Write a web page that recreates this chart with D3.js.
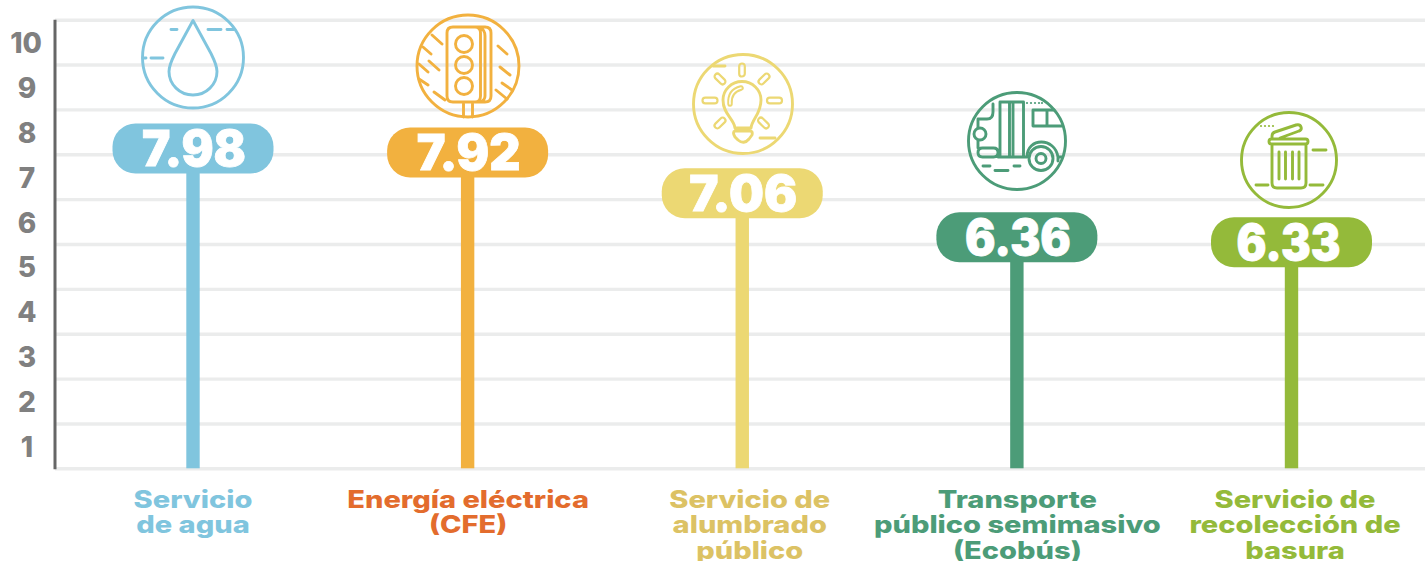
<!DOCTYPE html>
<html><head><meta charset="utf-8">
<script src="https://cdn.jsdelivr.net/npm/d3@7"></script>
<style>html,body{margin:0;padding:0;background:#fff;overflow:hidden}svg{display:block;font-family:Inter,"Noto Sans",sans-serif}</style>
</head><body><svg id="c" width="1425" height="561"></svg>
<script>
const categories = ["agua","cfe","alumbrado","ecobus","basura"];
const labelLines = [["Servicio","de agua"],["Energía eléctrica","(CFE)"],["Servicio de","alumbrado","público"],["Transporte","público semimasivo","(Ecobús)"],["Servicio de","recolección de","basura"]];
const values = [7.98,7.92,7.06,6.36,6.33];
// height of each lollipop head read against the picture's gridlines (not proportional to the printed score)
const headLevels = [7.13,7.04,6.13,5.15,5.04];
const barColors = ["#80c5de","#f2b13f","#ecd873","#4c9c78","#94ba3a"];
const textColors = ["#80c5de","#e36c2d","#dcc264","#4c9c78","#94ba3a"];
const gridTicks = [0,1,2,3,4,5,6,7,8,9,10];
const bandLabels = [1,2,3,4,5,6,7,8,9,10];
const valueWidths = [104,104,108,106,104];
const valueShift = [1,1,1,1,-3];
const labelShift = [0,0.5,7.5,0.5,3.5];
const iconCenterX = [193,468,743,1017,1289];
const iconCenterY = [57.5,66,104,141,160];
const iconRadius = [50.5,51,49.5,48.5,47.5];

const svg = d3.select("#c");
const y = d3.scaleLinear().domain([0,10]).range([468.3,19.7]);
const x = d3.scalePoint().domain(categories).range([193,1291.5]);

const gridAxis = d3.axisLeft(y).tickValues(gridTicks).tickSize(-1370).tickFormat("");
const gg = svg.append("g").attr("transform","translate(55,0)").call(gridAxis);
gg.select(".domain").remove();
gg.selectAll(".tick line").attr("stroke","#ebecec").attr("stroke-width",3.4);

svg.append("line").attr("x1",55).attr("x2",55).attr("y1",y(10)).attr("y2",y(0)+1).attr("stroke","#666").attr("stroke-width",3);

svg.selectAll("text.yl").data(bandLabels).join("text").attr("class","yl")
  .attr("x",d=>d===10?26:27).attr("y",d=>y(d-0.5)+11)
  .attr("text-anchor","middle")
  .attr("font-size",28).attr("font-weight",800).attr("fill","#808080").text(d=>d);

svg.selectAll("rect.stem").data(categories).join("rect").attr("class","stem")
  .attr("x",d=>x(d)-6.7).attr("width",13.4)
  .attr("y",(d,i)=>y(headLevels[i])).attr("height",(d,i)=>y(0)-y(headLevels[i]))
  .attr("fill",(d,i)=>barColors[i]);

svg.selectAll("rect.pill").data(categories).join("rect").attr("class","pill")
  .attr("x",d=>x(d)-80.5).attr("width",161).attr("height",50).attr("rx",23)
  .attr("y",(d,i)=>y(headLevels[i])-25).attr("fill",(d,i)=>barColors[i]);
svg.selectAll("text.val").data(categories).join("text").attr("class","val")
  .attr("x",(d,i)=>x(d)+valueShift[i]).attr("y",(d,i)=>y(headLevels[i])+18)
  .attr("text-anchor","middle").attr("font-size",49).attr("font-weight",900).attr("fill","#fff")
  .attr("stroke","#fff").attr("stroke-width",0.8)
  .attr("textLength",(d,i)=>valueWidths[i]).attr("lengthAdjust","spacingAndGlyphs")
  .text((d,i)=>values[i].toFixed(2));

categories.forEach((c,i)=>{
  labelLines[i].forEach((l,k)=>{
    svg.append("text").attr("text-anchor","middle")
      .attr("transform",`translate(${x(c)+labelShift[i]},${507.5+k*25.6}) scale(1.21,1)`)
      .attr("font-size",24).attr("font-weight",800).attr("fill",textColors[i]).text(l);
  });
});

const iconPaths = {
 agua:"M0,-37 L-18,-4 C-22,4 -24,9 -24,14 A24,23.5 0 0 0 24,14 C24,9 22,4 18,-4 Z M-22,-28 H-16 M15,-28 H28 M34,-28 H41 M-50,0.5 H-47 M-42,0.5 H-30",
 cfe:"M-15,-39 H7 Q12.5,-39 12.5,-33 V30 Q12.5,36 7,36 H-15 Q-21,36 -21,30 V-33 Q-21,-39 -15,-39 Z M7,-39 H17 Q23,-39 23,-33 V30 Q23,36 17,36 H7 M12.5,-38 Q17,-36 17,-30 V30 Q17,34 12.5,36 M-4.5,38 V51 M4.5,38 V51 M-36,-31 L-26,-22 M-45,-19 L-37,-12 M-39,-5 L-29,4 M-49,-2 L-40,6 M-49,13 L-40,19 M-34,26 L-23,34 M30,-20 L39,-12 M32,1 L42,9 M34,17 L44,24 M28,24 L39,33",
 alumbrado:"M-8,24 H8 C9,15 18,10 18,-4 A19,18.5 0 0 0 -20,-4 C-20,10 -9,15 -8,24 Z M-8,27 H7 Q10,27 9,31 L6,35 Q1,41 -5,36 L-8,33 Q-11,28 -8,27 Z M-30,-38 H-18 M17,34 H32",
 ecobus:"M-39,-22 H-30 Q-24,-22 -24,-29 V-37 M-39,-22 V-13 M-39,0 V7 M-17,16 V-39 H6.5 V16 M-7.5,-39 V16 M-4,-39 V16 M16,-31 H37 M16,-31 V-15 H45 M30,-31 V-15 M-19,16 H10 M-34.5,7 H-23.5 Q-19,7 -19,11.5 Q-19,16 -23.5,16 H-34.5 Q-39,16 -39,11.5 Q-39,7 -34.5,7 Z M10,16 C10,-4 38,-4 41,16 V20 M41,16 H45 M-34,25 H-27 M-22,29.5 H-9 M-3,25 H3",
 basura:"M-17.5,-21 H16.5 Q19,-21 19,-18.5 Q19,-16 16.5,-16 H-17.5 Q-20,-16 -20,-18.5 Q-20,-21 -17.5,-21 Z M-17,-16 V23 Q-17,28 -12,28 H12 Q17,28 17,23 V-16 M-10,-8 V19 M-3.5,-8 V19 M3.5,-8 V19 M10,-8 V19 M-17,-21 V-24 Q-17,-27 -14,-28 L7,-35 Q11,-36 12,-33 Q13,-30 10,-29 L-9,-22 M24,-10 H37 M-33,25 H-21 M21,25 H34"
};
const iconDots = {
 agua:[], cfe:[], alumbrado:[], basura:[[-28,-34],[-24,-34],[-20,-34],[-16,-34]],
 ecobus:[[10,-38],[14,-38],[18,-38],[22,-38],[25,-38]]
};
const iconCircles = {
 agua:[], alumbrado:[], basura:[],
 cfe:[[-4,-22,8.5],[-4,-1,8.5],[-4,20,8.5]],
 ecobus:[[-37,-7,6],[24,17.5,12],[24,17.5,5]]
};
// outlined bulb rays: centre x, centre y, length, angle
const bulbRays = [[-1,-34,13,90],[-23,-25,13,45],[21,-25,13,-45],[-33,-3.5,15,0],[31.5,-3.5,15,0],[-23,19,13,-45],[20.5,19,13,45]];

categories.forEach((c,i)=>{
  const g = svg.append("g").attr("transform",`translate(${iconCenterX[i]},${iconCenterY[i]})`)
    .attr("fill","none").attr("stroke",barColors[i]).attr("stroke-width",2.9).attr("stroke-linecap","round").attr("stroke-linejoin","round");
  g.append("circle").attr("r",iconRadius[i]);
  g.append("path").attr("d",iconPaths[c]);
  iconCircles[c].forEach(k=>g.append("circle").attr("cx",k[0]).attr("cy",k[1]).attr("r",k[2]));
  iconDots[c].forEach(k=>g.append("circle").attr("cx",k[0]).attr("cy",k[1]).attr("r",1.1).attr("fill",barColors[i]).attr("stroke","none"));
  if(c==="alumbrado"){
    bulbRays.forEach(r=>g.append("rect").attr("x",-r[2]/2).attr("y",-2.8).attr("width",r[2]).attr("height",5.6).attr("rx",2.8)
      .attr("stroke-width",2.2).attr("transform",`translate(${r[0]},${r[1]}) rotate(${r[3]})`));
    g.append("path").attr("stroke-width",5.5).attr("d","M-13,0 Q-14,-13 -2,-16");
    g.append("path").attr("stroke","#fff").attr("stroke-width",1.6).attr("d","M-13,0 Q-14,-13 -2,-16");
  }
});
</script></body></html>
